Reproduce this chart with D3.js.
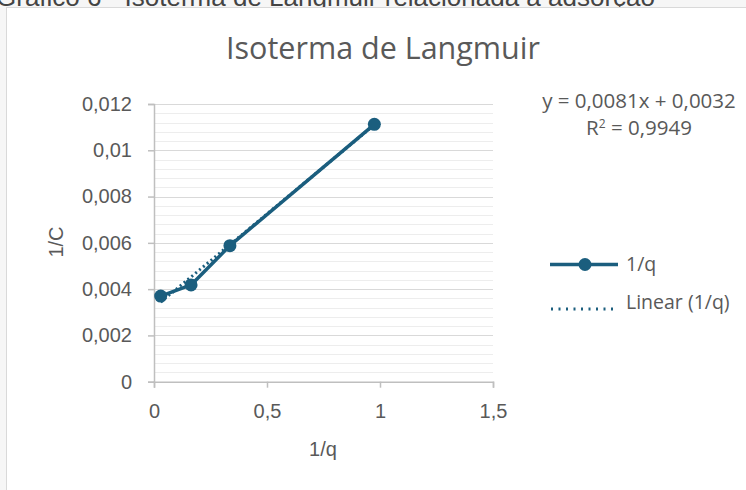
<!DOCTYPE html>
<html>
<head>
<meta charset="utf-8">
<script src="https://cdn.jsdelivr.net/npm/d3@7"></script>
<style>
  body { margin: 0; background: #f6f6f6; overflow: hidden; }
  svg { display: block; }
</style>
</head>
<body>
<script>
// data
var xValues = [0.0296, 0.164, 0.336, 0.975];
var yValues = [0.0037, 0.00418, 0.00588, 0.01112];
var xTicks = [0, 0.5, 1, 1.5];
var yTicks = [0, 0.002, 0.004, 0.006, 0.008, 0.01, 0.012];
// trendline as printed on the chart
var slope = 0.0081, intercept = 0.0032;
var equationText = "y = 0,0081x + 0,0032";
var r2Text = "0,9949";

var width = 746, height = 490;
var color = "#1b5e7e";
var textColor = "#595959";

var svg = d3.select("body").append("svg")
    .attr("width", width)
    .attr("height", height);

// caption of the page above the chart, mostly cut off
svg.append("text")
    .attr("x", -4).attr("y", 6)
    .style("font-family", "Liberation Sans, sans-serif")
    .style("font-size", "26px")
    .style("fill", "#444")
    .text("Gráfico 6 - Isoterma de Langmuir relacionada à adsorção");

// chart box
svg.append("rect")
    .attr("x", 6.5).attr("y", 7.5)
    .attr("width", width).attr("height", height)
    .attr("fill", "#fff")
    .attr("stroke", "#d9d9d9");

// scales
var x = d3.scaleLinear().domain([0, 1.5]).range([154, 493]);
var y = d3.scaleLinear().domain([0, 0.012]).range([381.7, 104]);

// minor gridlines
var minor = d3.range(0, 0.01201, 0.0004);
svg.append("g").selectAll("line")
    .data(minor)
    .enter().append("line")
    .attr("x1", x(0)).attr("x2", x(1.5))
    .attr("y1", function (d) { return Math.round(y(d)) + 0.5; })
    .attr("y2", function (d) { return Math.round(y(d)) + 0.5; })
    .attr("stroke", "#ededed");

// major gridlines
svg.append("g").selectAll("line")
    .data(yTicks)
    .enter().append("line")
    .attr("x1", x(0)).attr("x2", x(1.5))
    .attr("y1", function (d) { return Math.round(y(d)) + 0.5; })
    .attr("y2", function (d) { return Math.round(y(d)) + 0.5; })
    .attr("stroke", "#d9d9d9")
    .attr("stroke-width", 1.2);

var fmt = function (d) { return String(d).replace(".", ","); };

// y axis
var yAxis = svg.append("g")
    .attr("transform", "translate(" + x(0) + ",0)")
    .call(d3.axisLeft(y).tickValues(yTicks).tickFormat(fmt).tickSize(6).tickPadding(16));

// x axis
var xAxis = svg.append("g")
    .attr("transform", "translate(0," + y(0) + ")")
    .call(d3.axisBottom(x).tickValues(xTicks).tickFormat(fmt).tickSize(6).tickPadding(16));

[xAxis, yAxis].forEach(function (g) {
    g.select(".domain").attr("stroke", "#bfbfbf").attr("stroke-width", 1.5);
    g.selectAll(".tick line").attr("stroke", "#bfbfbf").attr("stroke-width", 1.5);
    g.selectAll("text")
        .style("font-family", "Liberation Sans, sans-serif")
        .style("font-size", "20px")
        .style("fill", textColor);
});

// title
svg.append("text")
    .attr("x", 383).attr("y", 59)
    .attr("text-anchor", "middle")
    .style("font-family", "Open Sans, sans-serif")
    .style("font-size", "30.5px")
    .style("fill", textColor)
    .text("Isoterma de Langmuir");

// axis titles
svg.append("text")
    .attr("transform", "translate(63,242) rotate(-90)")
    .attr("text-anchor", "middle")
    .style("font-family", "Liberation Sans, sans-serif")
    .style("font-size", "20px")
    .style("fill", textColor)
    .text("1/C");

svg.append("text")
    .attr("x", 323).attr("y", 456)
    .attr("text-anchor", "middle")
    .style("font-family", "Liberation Sans, sans-serif")
    .style("font-size", "20px")
    .style("fill", textColor)
    .text("1/q");

// series
var points = xValues.map(function (d, i) { return [d, yValues[i]]; });
var line = d3.line()
    .x(function (d) { return x(d[0]); })
    .y(function (d) { return y(d[1]); });

svg.append("path")
    .datum(points)
    .attr("d", line)
    .attr("fill", "none")
    .attr("stroke", color)
    .attr("stroke-width", 3.5)
    .attr("stroke-linejoin", "round");

// linear trendline over data range
var xMin = d3.min(xValues), xMax = d3.max(xValues);
svg.append("path")
    .datum([[xMin, slope * xMin + intercept], [xMax, slope * xMax + intercept]])
    .attr("d", line)
    .attr("fill", "none")
    .attr("stroke", color)
    .attr("stroke-width", 3)
    .attr("stroke-dasharray", "2,3");

svg.append("g").selectAll("circle")
    .data(points)
    .enter().append("circle")
    .attr("cx", function (d) { return x(d[0]); })
    .attr("cy", function (d) { return y(d[1]); })
    .attr("r", 6.5)
    .attr("fill", color);

// equation
var eq = svg.append("text")
    .attr("text-anchor", "middle")
    .style("font-family", "Open Sans, sans-serif")
    .style("font-size", "20.5px")
    .style("fill", textColor);
eq.append("tspan").attr("x", 639).attr("y", 108).text(equationText);
var r2 = eq.append("tspan").attr("x", 639).attr("y", 135).text("R");
r2.append("tspan").attr("dy", -7).style("font-size", "12px").text("2");
r2.append("tspan").attr("dy", 7).text(" = " + r2Text);

// legend
var legend = svg.append("g");
legend.append("line")
    .attr("x1", 550).attr("x2", 618).attr("y1", 264.5).attr("y2", 264.5)
    .attr("stroke", color).attr("stroke-width", 3.5);
legend.append("circle")
    .attr("cx", 585).attr("cy", 264.5).attr("r", 6.5).attr("fill", color);
legend.append("line")
    .attr("x1", 551).attr("x2", 618).attr("y1", 309).attr("y2", 309)
    .attr("stroke", color).attr("stroke-width", 3)
    .attr("stroke-dasharray", "2,5.5");

legend.selectAll("text")
    .data(["1/q", "Linear (1/q)"])
    .enter().append("text")
    .attr("x", 626)
    .attr("y", function (d, i) { return 271 + i * 38; })
    .style("font-family", "Open Sans, sans-serif")
    .style("font-size", "19.5px")
    .style("fill", textColor)
    .text(function (d) { return d; });
</script>
</body>
</html>
